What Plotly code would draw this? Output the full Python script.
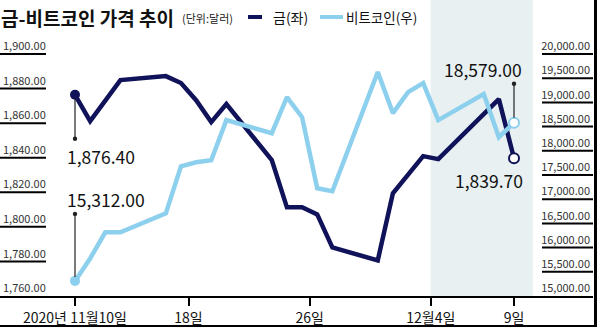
import pandas as pd
import plotly.graph_objects as go

# ---- data -------------------------------------------------------------
gold_dates = ["2020-11-10", "2020-11-11", "2020-11-13", "2020-11-16", "2020-11-17",
              "2020-11-18", "2020-11-19", "2020-11-20", "2020-11-23", "2020-11-24",
              "2020-11-25", "2020-11-26", "2020-11-27", "2020-11-30", "2020-12-01",
              "2020-12-03", "2020-12-04", "2020-12-08", "2020-12-09"]
gold_prices = [1876.40, 1861.2, 1884.9, 1887.2, 1883.2,
               1873.3, 1860.6, 1871.0, 1838.6, 1811.3,
               1811.3, 1807.2, 1788.1, 1780.6, 1819.4,
               1840.9, 1839.2, 1873.9, 1839.70]

btc_dates = ["2020-11-10", "2020-11-11", "2020-11-12", "2020-11-13", "2020-11-16",
             "2020-11-17", "2020-11-18", "2020-11-19", "2020-11-20", "2020-11-23",
             "2020-11-24", "2020-11-25", "2020-11-26", "2020-11-27", "2020-11-30",
             "2020-12-01", "2020-12-02", "2020-12-03", "2020-12-04", "2020-12-07",
             "2020-12-08", "2020-12-09"]
btc_prices = [15312.00, 15776, 16315, 16315, 16708,
              17681, 17764, 17805, 18634, 18364,
              19110, 18696, 17226, 17164, 19627,
              18778, 19213, 19400, 18634, 19172,
              18282, 18579.00]

tick_dates = ["2020-11-10", "2020-11-18", "2020-11-26", "2020-12-04", "2020-12-09"]
tick_text = ["2020년 11월10일", "18일", "26일", "12월4일", "9일"]

gold_ticks = list(range(1760, 1901, 20))
btc_ticks = list(range(15000, 20001, 500))

title = "금-비트코인 가격 추이"
unit = "(단위:달러)"
gold_name = "금(좌)"
btc_name = "비트코인(우)"

# ---- styling ----------------------------------------------------------
NAVY = "#10125a"
SKY = "#8dd0ee"
SHADE = "#e8f0f2"
FONT = "Noto Sans CJK KR"

W, H = 597, 327
M_L, M_R, M_T, M_B = 0, 4, 0, 31
PW, PH = W - M_L - M_R, H - M_T - M_B

# horizontal scale: first day at 75px, last day at 514px
d0 = pd.Timestamp(gold_dates[0])
d1 = pd.Timestamp(gold_dates[-1])
px_per_day = (514 - 75) / ((d1 - d0).days)
x_start = d0 - pd.Timedelta(days=75 / px_per_day)
x_end = d1 + pd.Timedelta(days=(PW - 514) / px_per_day)

# vertical scales: lowest tick on the axis line, top tick 54px from the top
g_lo, g_hi = gold_ticks[0], gold_ticks[-1]
g_top = g_lo + (g_hi - g_lo) * PH / (PH - 54)
b_lo, b_hi = btc_ticks[0], btc_ticks[-1]
b_top = b_lo + (b_hi - b_lo) * PH / (PH - 54)

# inner ticks sit half a day early, as in the house style
tick_vals = []
for i, d in enumerate(tick_dates):
    t = pd.Timestamp(d)
    if 0 < i < len(tick_dates) - 1:
        t = t - pd.Timedelta(hours=12)
    tick_vals.append(t)


def py(px):
    """pixel row -> paper fraction"""
    return (PH - px) / PH


def pxx(px):
    """pixel column -> paper fraction"""
    return px / PW


fig = go.Figure()

fig.add_trace(go.Scatter(x=btc_dates, y=btc_prices, mode="lines", yaxis="y2",
                         line=dict(color=SKY, width=4.5), showlegend=False,
                         hoverinfo="skip"))
fig.add_trace(go.Scatter(x=gold_dates, y=gold_prices, mode="lines", yaxis="y",
                         line=dict(color=NAVY, width=4.5), showlegend=False,
                         hoverinfo="skip"))

shapes = []
annotations = []

# highlighted final week
shapes.append(dict(type="rect", xref="x", yref="paper",
                   x0=tick_vals[3], x1=d1 + pd.Timedelta(hours=30), y0=0, y1=1,
                   fillcolor=SHADE, line=dict(width=0), layer="below"))

# short rules under each value-axis label
for v in gold_ticks[1:]:
    shapes.append(dict(type="line", xref="paper", yref="y", x0=0, x1=46 / PW,
                       y0=v, y1=v, line=dict(color="black", width=2), layer="above"))
for v in btc_ticks[1:]:
    shapes.append(dict(type="line", xref="paper", yref="y2", x0=(PW - 51) / PW, x1=1,
                       y0=v, y1=v, line=dict(color="black", width=2), layer="above"))


def leader(x, y, yref, start, end):
    shapes.append(dict(type="line", xref="x", yref=yref,
                       xsizemode="pixel", ysizemode="pixel",
                       xanchor=x, yanchor=y, x0=0, x1=0, y0=start, y1=end,
                       line=dict(color="#222", width=1.2), layer="above"))
    shapes.append(dict(type="circle", xref="x", yref=yref,
                       xsizemode="pixel", ysizemode="pixel",
                       xanchor=x, yanchor=y, x0=-2.2, x1=2.2, y0=end - 2.2, y1=end + 2.2,
                       fillcolor="#222", line=dict(width=0), layer="above"))


leader(gold_dates[0], gold_prices[0], "y", -4, -44)
leader(btc_dates[0], btc_prices[0], "y2", 4, 67)
leader(btc_dates[-1], btc_prices[-1], "y2", 5, 39)

# end-point markers
fig.add_trace(go.Scatter(x=[gold_dates[0]], y=[gold_prices[0]], mode="markers",
                         marker=dict(color=NAVY, size=10), yaxis="y",
                         showlegend=False, hoverinfo="skip"))
fig.add_trace(go.Scatter(x=[btc_dates[0]], y=[btc_prices[0]], mode="markers",
                         marker=dict(color=SKY, size=10), yaxis="y2",
                         showlegend=False, hoverinfo="skip"))
fig.add_trace(go.Scatter(x=[gold_dates[-1]], y=[gold_prices[-1]], mode="markers",
                         marker=dict(color="white", size=10, line=dict(color=NAVY, width=2)),
                         yaxis="y", showlegend=False, hoverinfo="skip"))
fig.add_trace(go.Scatter(x=[btc_dates[-1]], y=[btc_prices[-1]], mode="markers",
                         marker=dict(color="white", size=10, line=dict(color=SKY, width=2)),
                         yaxis="y2", showlegend=False, hoverinfo="skip"))

# value labels
val_font = dict(family=FONT, size=17.5, color="#111")
annotations += [
    dict(x=gold_dates[0], y=gold_prices[0], yref="y", text=f"{gold_prices[0]:,.2f}",
         showarrow=False, xanchor="left", yanchor="middle", xshift=-10, yshift=-62,
         font=val_font),
    dict(x=btc_dates[0], y=btc_prices[0], yref="y2", text=f"{btc_prices[0]:,.2f}",
         showarrow=False, xanchor="left", yanchor="middle", xshift=-10, yshift=81,
         font=val_font),
    dict(x=btc_dates[-1], y=btc_prices[-1], yref="y2", text=f"{btc_prices[-1]:,.2f}",
         showarrow=False, xanchor="right", yanchor="middle", xshift=10, yshift=53,
         font=val_font),
    dict(x=gold_dates[-1], y=gold_prices[-1], yref="y", text=f"{gold_prices[-1]:,.2f}",
         showarrow=False, xanchor="right", yanchor="middle", xshift=11, yshift=-22,
         font=val_font),
]

# title, unit and hand-made legend
annotations += [
    dict(xref="paper", yref="paper", x=pxx(-1), y=py(17), text=f"<b>{title}</b>",
         showarrow=False, xanchor="left", yanchor="middle",
         font=dict(family=FONT, size=19, color="#111")),
    dict(xref="paper", yref="paper", x=pxx(180), y=py(18), text=unit,
         showarrow=False, xanchor="left", yanchor="middle",
         font=dict(family=FONT, size=11, color="#222")),
    dict(xref="paper", yref="paper", x=pxx(271), y=py(17), text=gold_name,
         showarrow=False, xanchor="left", yanchor="middle",
         font=dict(family=FONT, size=14, color="#111")),
    dict(xref="paper", yref="paper", x=pxx(344), y=py(17), text=btc_name,
         showarrow=False, xanchor="left", yanchor="middle",
         font=dict(family=FONT, size=13.5, color="#111")),
]
shapes += [
    dict(type="line", xref="paper", yref="paper", x0=pxx(248), x1=pxx(262),
         y0=py(17), y1=py(17), line=dict(color=NAVY, width=4)),
    dict(type="line", xref="paper", yref="paper", x0=pxx(320), x1=pxx(343),
         y0=py(17), y1=py(17), line=dict(color=SKY, width=4)),
    # frame edges
    dict(type="rect", xref="paper", yref="paper", x0=pxx(PW + 1), x1=pxx(W + 2),
         y0=py(H + 2), y1=py(-2), fillcolor="#000", line=dict(width=0)),
    dict(type="line", xref="paper", yref="paper", x0=pxx(-2), x1=pxx(W + 2),
         y0=py(326), y1=py(326), line=dict(color="#000", width=2)),
]

tick_font = dict(family=FONT, size=11, color="#333")

fig.update_layout(
    width=W, height=H,
    margin=dict(l=M_L, r=M_R, t=M_T, b=M_B, pad=0),
    paper_bgcolor="white", plot_bgcolor="white",
    showlegend=False,
    xaxis=dict(type="date", range=[x_start, x_end], tickvals=tick_vals, ticktext=tick_text,
               ticks="outside", ticklen=8, tickwidth=2, tickcolor="#000",
               showline=True, linecolor="#000", linewidth=2, showgrid=False,
               zeroline=False, tickfont=dict(family=FONT, size=14, color="#111")),
    yaxis=dict(range=[g_lo, g_top], tickvals=gold_ticks, tickformat=",.2f",
               ticklabelposition="inside top",
               showgrid=False, zeroline=False, showline=False, tickfont=tick_font),
    yaxis2=dict(range=[b_lo, b_top], tickvals=btc_ticks, tickformat=",.2f",
                overlaying="y", side="right",
                ticklabelposition="inside top", showgrid=False, zeroline=False,
                showline=False, tickfont=tick_font),
    shapes=shapes,
    annotations=annotations,
)

fig.write_html("out.html")
